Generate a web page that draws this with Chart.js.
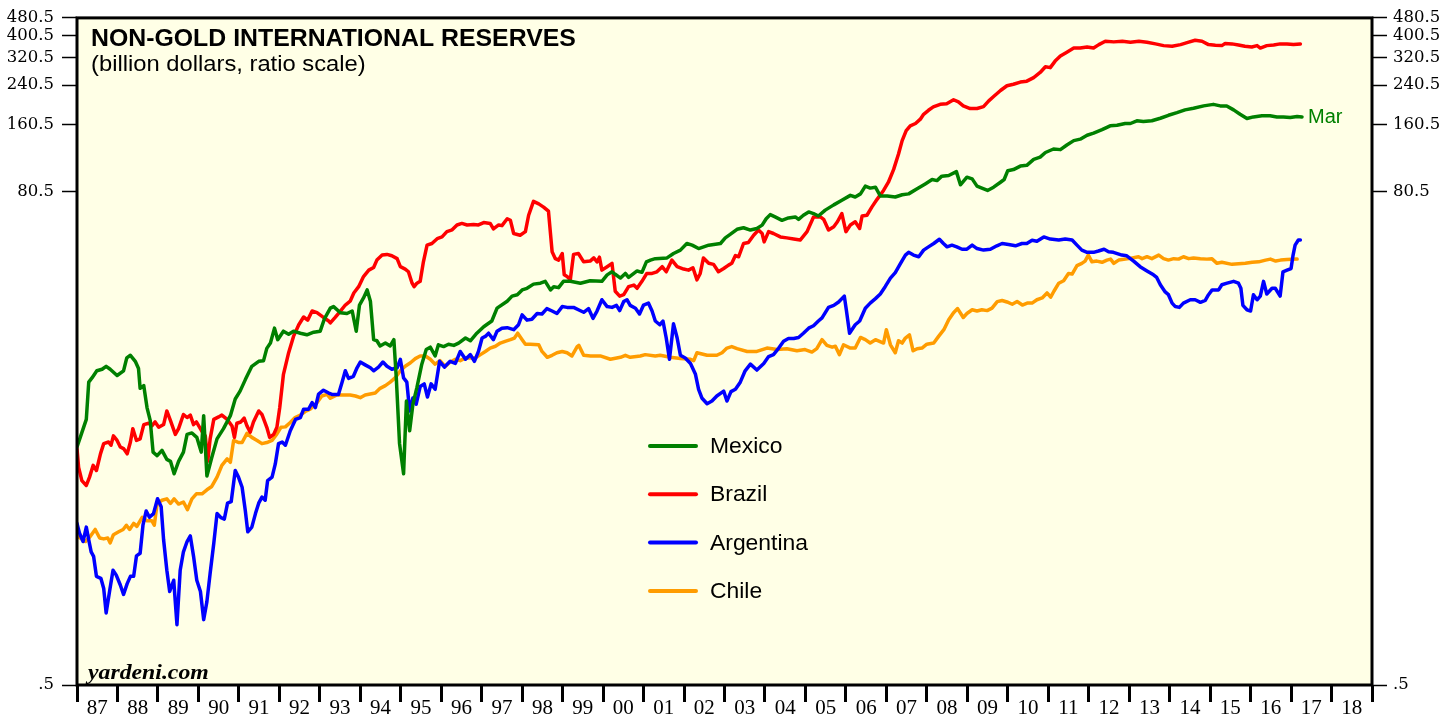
<!DOCTYPE html>
<html><head><meta charset="utf-8">
<script src="https://cdn.jsdelivr.net/npm/chart.js@4.4.1/dist/chart.umd.min.js"></script>
<style>html,body{margin:0;padding:0;background:#fff;}canvas{display:block;}</style>
</head><body>
<canvas id="c" width="1455" height="717" style="width:1455px;height:717px"></canvas>
<script>
// ---------- DATA (billion dollars; [decimal year, value]) ----------
const seriesNames = ['Mexico', 'Brazil', 'Argentina', 'Chile'];
const yTickValues = [0.5, 80.5, 160.5, 240.5, 320.5, 400.5, 480.5];
const yTickLabels = ['.5', '80.5', '160.5', '240.5', '320.5', '400.5', '480.5'];
const xTickLabels = ['87','88','89','90','91','92','93','94','95','96','97','98','99','00','01','02','03','04','05','06','07','08','09','10','11','12','13','14','15','16','17','18'];
const lastLabel = 'Mar';

const mexico = [[1987.00,5.8],[1987.08,6.4],[1987.23,7.7],[1987.29,11.3],[1987.37,11.8],[1987.49,12.7],[1987.62,12.9],[1987.72,13.3],[1987.82,12.9],[1987.99,12.1],
[1988.15,12.7],[1988.23,14.5],[1988.32,14.9],[1988.44,14.0],[1988.52,13.0],[1988.56,10.6],[1988.65,10.9],[1988.73,8.7],[1988.81,7.6],[1988.88,5.5],[1988.98,5.3],
[1989.10,5.6],[1989.22,5.1],[1989.31,5.0],[1989.40,4.4],[1989.51,5.0],[1989.63,5.5],[1989.72,6.6],[1989.84,6.7],[1989.96,6.4],
[1990.07,5.5],[1990.13,8.0],[1990.21,4.3],[1990.33,5.2],[1990.46,6.3],[1990.62,7.0],[1990.79,8.0],[1990.91,9.5],
[1991.03,10.3],[1991.16,11.6],[1991.32,13.3],[1991.49,14.0],[1991.61,14.1],[1991.69,16.0],[1991.78,16.9],[1991.88,19.7],[1991.96,17.5],
[1992.10,19.1],[1992.23,18.5],[1992.35,19.1],[1992.52,18.7],[1992.68,18.4],[1992.85,18.9],
[1993.01,19.1],[1993.11,21.6],[1993.26,24.2],[1993.34,24.6],[1993.51,23.1],[1993.67,22.9],[1993.80,23.5],[1993.90,19.1],[1993.98,25.0],
[1994.08,26.9],[1994.17,29.2],[1994.25,26.0],[1994.33,17.5],[1994.41,17.3],[1994.49,16.4],[1994.62,16.9],[1994.74,16.4],[1994.83,17.5],[1994.89,11.8],[1994.97,6.0],
[1995.07,4.4],[1995.14,9.3],[1995.22,6.85],[1995.30,9.0],[1995.40,10.7],[1995.52,13.6],[1995.63,15.8],[1995.73,16.2],[1995.85,14.8],[1995.93,16.6],
[1996.06,16.3],[1996.18,16.7],[1996.31,16.5],[1996.43,16.9],[1996.60,17.8],[1996.72,17.3],[1996.88,18.7],
[1997.05,20.0],[1997.25,21.2],[1997.38,24.2],[1997.63,26.0],[1997.75,27.4],[1997.88,27.8],
[1998.00,29.2],[1998.12,29.7],[1998.28,31.0],[1998.45,31.3],[1998.57,31.9],[1998.70,29.2],[1998.78,30.2],[1998.90,29.9],
[1999.02,31.9],[1999.19,31.9],[1999.44,31.3],[1999.68,32.1],[1999.97,31.9],
[2000.10,34.1],[2000.22,35.2],[2000.30,34.3],[2000.43,33.0],[2000.55,34.6],[2000.63,33.2],[2000.76,34.6],[2000.84,35.5],[2000.96,35.0],
[2001.07,39.0],[2001.17,39.7],[2001.29,40.3],[2001.58,40.6],[2001.74,42.5],[2001.91,44.0],
[2002.07,47.1],[2002.20,46.3],[2002.36,44.7],[2002.61,46.3],[2002.90,47.1],
[2003.02,49.9],[2003.14,51.7],[2003.31,54.5],[2003.47,55.4],[2003.64,54.1],[2003.80,55.0],[2003.93,56.9],
[2004.03,60.8],[2004.13,63.4],[2004.25,61.9],[2004.42,59.8],[2004.58,61.3],[2004.75,61.9],[2004.83,60.4],[2004.95,63.0],
[2005.08,65.2],[2005.20,64.1],[2005.32,62.5],[2005.49,66.4],[2005.70,70.1],[2005.90,73.5],
[2006.11,77.3],[2006.23,76.0],[2006.36,78.5],[2006.48,85.0],[2006.60,83.3],[2006.73,84.1],[2006.85,76.8],
[2007.02,76.8],[2007.22,76.0],[2007.39,77.8],[2007.55,78.5],[2007.76,82.7],[2007.96,87.0],
[2008.13,91.0],[2008.25,90.0],[2008.37,94.2],[2008.54,94.9],[2008.73,98.7],[2008.83,86.2],[2008.99,93.2],
[2009.12,91.6],[2009.24,85.0],[2009.36,83.3],[2009.50,81.3],[2009.65,84.1],[2009.82,88.5],[2009.91,91.0],
[2010.00,99.7],[2010.14,100.8],[2010.31,104.5],[2010.47,105.3],[2010.64,112],[2010.80,114.6],[2010.93,120.2],
[2011.13,124.6],[2011.30,123.8],[2011.46,129.8],[2011.63,135.8],[2011.79,137.9],[2011.96,143.6],
[2012.12,146.8],[2012.33,152],[2012.53,158.2],[2012.70,159],[2012.90,162],
[2013.03,162],[2013.19,166.6],[2013.35,165.4],[2013.56,166.6],[2013.77,171],[2013.97,176.3],
[2014.18,181.2],[2014.38,186.4],[2014.59,189.5],[2014.84,194.2],
[2015.08,197.3],[2015.25,194.2],[2015.41,194.2],[2015.58,186.4],[2015.74,178.2],[2015.91,170.5],
[2016.07,173.4],[2016.28,175.3],[2016.48,175.3],[2016.65,173.4],[2016.81,173.4],[2016.98,172.2],
[2017.15,174],[2017.27,173.4]];

const brazil = [[1987.00,5.7],[1987.04,4.7],[1987.12,4.1],[1987.23,3.9],[1987.31,4.25],[1987.40,4.8],[1987.48,4.55],[1987.58,5.4],[1987.66,6.0],[1987.78,6.1],[1987.84,5.9],[1987.90,6.5],[1987.99,6.2],
[1988.07,5.8],[1988.15,5.7],[1988.24,5.4],[1988.32,6.1],[1988.38,7.0],[1988.47,6.2],[1988.56,6.3],[1988.65,7.3],[1988.77,7.4],[1988.85,7.2],[1988.93,7.5],
[1989.02,7.1],[1989.14,7.3],[1989.22,8.4],[1989.31,7.6],[1989.43,6.6],[1989.51,7.0],[1989.63,8.1],[1989.72,7.85],[1989.80,8.05],[1989.88,7.3],[1989.95,7.5],
[1990.03,7.1],[1990.11,6.7],[1990.17,6.5],[1990.23,5.0],[1990.29,6.3],[1990.38,7.7],[1990.50,7.9],[1990.58,8.05],[1990.71,7.7],[1990.83,7.2],[1990.89,6.4],[1990.95,7.4],
[1991.05,7.5],[1991.13,7.8],[1991.20,7.2],[1991.28,6.75],[1991.36,7.5],[1991.49,8.4],[1991.57,8.1],[1991.69,7.1],[1991.76,6.4],[1991.86,6.6],[1991.94,7.1],
[1992.01,8.7],[1992.10,12.2],[1992.23,15.3],[1992.35,18.1],[1992.48,20.4],[1992.60,22.1],[1992.70,21.4],[1992.81,23.5],[1992.93,23.1],
[1993.09,22.0],[1993.22,21.2],[1993.26,20.8],[1993.38,22.0],[1993.51,23.5],[1993.63,25.0],[1993.75,26.0],[1993.84,28.3],[1993.96,30.2],
[1994.08,33.5],[1994.21,35.8],[1994.33,36.8],[1994.41,39.7],[1994.54,41.8],[1994.66,42.1],[1994.78,41.5],[1994.91,40.3],[1994.99,37.1],
[1995.11,36.2],[1995.19,35.2],[1995.28,31.3],[1995.33,30.2],[1995.40,31.3],[1995.48,31.9],[1995.56,39.0],[1995.65,46.3],[1995.77,47.1],[1995.90,49.5],
[1996.02,50.4],[1996.14,53.2],[1996.27,54.2],[1996.39,57.0],[1996.51,57.9],[1996.64,57.0],[1996.80,57.3],[1996.92,57.0],
[1997.05,58.4],[1997.21,57.9],[1997.29,54.7],[1997.42,57.0],[1997.50,56.6],[1997.63,60.8],[1997.71,59.8],[1997.79,52.2],[1997.95,51.3],
[1998.08,53.2],[1998.16,63.0],[1998.28,72.7],[1998.41,70.8],[1998.53,68.5],[1998.65,65.7],[1998.74,43.3],[1998.82,40.3],[1998.90,39.7],[1998.99,42.5],
[1999.04,34.1],[1999.11,33.5],[1999.19,32.4],[1999.27,42.1],[1999.39,42.5],[1999.52,39.0],[1999.68,39.3],[1999.77,40.6],[1999.85,39.0],[1999.91,40.9],[1999.97,35.8],
[2000.10,37.1],[2000.22,38.4],[2000.30,28.8],[2000.41,27.4],[2000.51,27.8],[2000.63,30.2],[2000.76,30.7],[2000.84,29.7],[2000.96,31.9],
[2001.08,34.6],[2001.21,34.6],[2001.33,35.2],[2001.46,37.1],[2001.56,35.2],[2001.70,39.7],[2001.83,37.1],[2001.99,36.2],
[2002.11,35.8],[2002.22,36.7],[2002.32,32.4],[2002.40,34.6],[2002.48,40.6],[2002.61,38.4],[2002.73,38.0],[2002.85,35.2],[2002.98,36.4],
[2003.10,37.7],[2003.18,38.4],[2003.27,41.6],[2003.35,41.1],[2003.47,47.1],[2003.59,47.6],[2003.72,51.3],[2003.84,54.1],[2003.93,52.2],[2003.98,47.9],
[2004.09,53.2],[2004.21,52.2],[2004.38,50.4],[2004.54,49.9],[2004.71,49.3],[2004.87,48.8],
[2005.04,53.2],[2005.20,61.9],[2005.37,61.9],[2005.45,60.4],[2005.57,54.1],[2005.70,56.0],[2005.79,58.9],[2005.90,64.1],
[2006.00,53.2],[2006.11,57.0],[2006.23,58.9],[2006.34,55.0],[2006.40,62.5],[2006.52,63.0],[2006.64,68.5],[2006.77,74.2],[2006.93,81.3],
[2007.05,88.5],[2007.18,101],[2007.30,118.3],[2007.39,135.8],[2007.49,150.5],[2007.59,158.2],[2007.72,162],[2007.84,169.4],[2007.92,178.1],
[2008.04,185.6],[2008.16,192.2],[2008.33,197.3],[2008.49,198.7],[2008.66,206.9],[2008.78,202.3],[2008.90,194.2],
[2009.07,189],[2009.24,189],[2009.40,192.8],[2009.53,204.6],[2009.65,213.8],[2009.82,227.5],[2009.98,239],
[2010.14,242.7],[2010.31,248.2],[2010.47,250.5],[2010.64,259.8],[2010.80,273.9],[2010.93,290.7],
[2011.05,287.9],[2011.17,308],[2011.30,324.8],[2011.46,337.7],[2011.63,352.3],[2011.79,352.3],[2011.96,356.2],
[2012.12,352.3],[2012.25,365],[2012.41,378],[2012.62,375.4],[2012.83,378],
[2013.03,374.2],[2013.24,378],[2013.44,374.2],[2013.65,367.7],[2013.85,361.2],
[2014.06,358.8],[2014.27,365],[2014.47,374.2],[2014.63,381.9],[2014.80,378],[2014.96,365],
[2015.13,362.7],[2015.29,361.2],[2015.37,368.8],[2015.54,367.7],[2015.70,363.8],[2015.86,358.8],
[2016.03,356.2],[2016.16,361.2],[2016.24,352.3],[2016.40,361.2],[2016.57,363.8],[2016.73,367.7],[2016.90,367.7],
[2017.06,365],[2017.23,367.7]];

const argentina = [[1987.00,2.64],[1987.06,2.39],[1987.15,2.19],[1987.23,2.54],[1987.29,2.23],[1987.35,1.97],[1987.41,1.88],[1987.48,1.53],[1987.59,1.5],[1987.66,1.35],[1987.72,1.05],[1987.81,1.33],[1987.89,1.63],[1987.97,1.55],
[1988.07,1.4],[1988.15,1.27],[1988.24,1.42],[1988.32,1.53],[1988.40,1.53],[1988.47,1.89],[1988.56,1.94],[1988.63,2.59],[1988.71,3.0],[1988.79,2.81],[1988.89,2.92],[1988.99,3.4],
[1989.08,3.13],[1989.14,2.23],[1989.22,1.63],[1989.29,1.31],[1989.39,1.47],[1989.47,0.93],[1989.55,1.63],[1989.63,1.97],[1989.72,2.19],[1989.80,2.32],[1989.88,1.88],[1989.96,1.47],
[1990.05,1.31],[1990.13,0.98],[1990.21,1.18],[1990.29,1.58],[1990.38,2.15],[1990.46,2.92],[1990.56,2.8],[1990.64,2.76],[1990.72,3.25],[1990.81,3.3],[1990.91,4.55],[1990.99,4.25],
[1991.08,3.83],[1991.16,3.0],[1991.22,2.42],[1991.32,2.54],[1991.41,2.92],[1991.49,3.25],[1991.57,3.46],[1991.65,3.35],[1991.71,4.1],[1991.82,4.25],[1991.90,4.87],[1991.98,6.0],
[1992.07,6.1],[1992.15,5.9],[1992.27,6.85],[1992.40,7.7],[1992.52,7.85],[1992.60,8.55],[1992.72,8.55],[1992.81,9.15],[1992.89,8.7],[1992.97,10.0],
[1993.09,10.4],[1993.22,10.1],[1993.30,9.96],[1993.46,9.96],[1993.55,11.3],[1993.63,12.7],[1993.71,11.75],[1993.83,12.0],[1993.92,13.1],
[1994.00,13.9],[1994.12,13.5],[1994.25,13.1],[1994.33,12.7],[1994.45,13.2],[1994.56,13.9],[1994.66,13.3],[1994.78,12.9],[1994.91,13.1],[1994.99,14.3],
[1995.07,11.8],[1995.15,11.3],[1995.22,8.4],[1995.30,9.6],[1995.38,9.0],[1995.48,10.8],[1995.58,11.1],[1995.66,9.7],[1995.75,11.1],[1995.85,10.5],[1995.96,14.0],
[1996.08,13.2],[1996.22,14.0],[1996.35,13.7],[1996.47,15.5],[1996.60,14.3],[1996.72,15.0],[1996.82,14.0],[1996.92,15.5],
[1997.01,17.8],[1997.09,18.1],[1997.17,18.7],[1997.29,17.5],[1997.38,19.1],[1997.50,19.7],[1997.63,19.8],[1997.79,19.4],[1997.91,20.4],
[1998.00,22.6],[1998.12,21.4],[1998.24,21.6],[1998.37,22.9],[1998.49,22.8],[1998.61,24.1],[1998.74,23.5],[1998.86,22.9],[1998.99,24.6],
[1999.11,24.4],[1999.27,24.4],[1999.39,23.8],[1999.52,23.2],[1999.64,24.1],[1999.75,21.8],[1999.85,23.5],[1999.97,26.4],
[2000.10,24.6],[2000.22,24.4],[2000.33,24.9],[2000.41,23.6],[2000.51,25.9],[2000.59,26.4],[2000.67,24.9],[2000.80,24.2],[2000.90,22.8],
[2001.00,25.0],[2001.12,25.5],[2001.21,23.5],[2001.29,21.2],[2001.40,20.4],[2001.48,21.2],[2001.56,17.8],[2001.64,14.3],[2001.74,20.6],[2001.83,17.8],[2001.91,14.9],
[2002.03,14.5],[2002.16,13.7],[2002.28,12.3],[2002.36,10.5],[2002.44,9.6],[2002.57,9.05],[2002.69,9.3],[2002.81,9.8],[2002.98,10.3],
[2003.06,9.3],[2003.16,10.25],[2003.27,10.5],[2003.39,11.3],[2003.51,12.7],[2003.64,13.6],[2003.80,12.8],[2003.97,13.7],
[2004.09,14.7],[2004.21,15.0],[2004.34,16.05],[2004.46,17.2],[2004.58,17.7],[2004.71,17.7],[2004.83,17.9],[2004.95,18.7],
[2005.08,19.7],[2005.20,20.2],[2005.32,21.2],[2005.41,21.9],[2005.57,24.4],[2005.70,24.9],[2005.82,25.8],[2005.96,27.4],
[2006.01,23.8],[2006.09,18.7],[2006.23,20.4],[2006.34,21.2],[2006.48,24.2],[2006.60,25.5],[2006.73,26.7],[2006.85,28.0],[2006.97,30.2],
[2007.10,33.0],[2007.22,34.9],[2007.35,38.4],[2007.47,41.8],[2007.55,43.0],[2007.67,41.8],[2007.80,41.1],[2007.92,44.0],
[2008.04,45.5],[2008.17,47.1],[2008.31,49.2],[2008.41,47.1],[2008.50,45.5],[2008.62,46.3],[2008.74,45.5],[2008.87,44.4],[2008.99,44.4],
[2009.12,46.3],[2009.24,44.7],[2009.40,44.0],[2009.57,44.4],[2009.73,46.0],[2009.86,47.1],
[2010.02,46.6],[2010.19,46.0],[2010.35,47.1],[2010.47,47.1],[2010.60,48.7],[2010.72,48.2],[2010.89,50.4],
[2011.05,49.3],[2011.26,48.8],[2011.42,49.3],[2011.59,48.8],[2011.71,46.3],[2011.83,44.0],[2011.96,43.0],
[2012.12,43.0],[2012.24,43.6],[2012.38,44.4],[2012.49,43.3],[2012.61,43.0],[2012.82,41.8],[2012.94,41.5],
[2013.11,39.3],[2013.27,37.1],[2013.44,35.5],[2013.60,34.1],[2013.68,33.2],[2013.77,30.8],[2013.89,28.6],[2013.97,27.8],
[2014.06,25.5],[2014.14,24.6],[2014.24,24.4],[2014.34,25.5],[2014.51,26.4],[2014.63,26.4],[2014.76,25.7],[2014.88,26.2],[2014.96,27.8],
[2015.05,29.2],[2015.21,29.2],[2015.29,30.8],[2015.42,31.3],[2015.58,31.9],[2015.70,31.3],[2015.76,29.7],[2015.81,24.9],[2015.91,23.8],
[2016.00,23.5],[2016.07,27.8],[2016.16,26.4],[2016.24,27.4],[2016.32,31.9],[2016.40,28.0],[2016.53,29.7],[2016.61,29.7],[2016.73,27.4],[2016.80,35.2],[2016.90,35.8],
[2017.00,36.4],[2017.05,41.8],[2017.10,46.3],[2017.18,48.8],[2017.23,48.8]];

const chile = [[1987.00,2.31],[1987.08,2.27],[1987.21,2.19],[1987.33,2.31],[1987.45,2.48],[1987.56,2.27],[1987.66,2.25],[1987.76,2.27],[1987.82,2.16],[1987.90,2.35],
[1988.03,2.42],[1988.14,2.48],[1988.22,2.59],[1988.30,2.48],[1988.40,2.64],[1988.48,2.56],[1988.61,2.81],[1988.73,2.71],[1988.85,2.71],[1988.91,2.59],[1988.98,3.24],
[1989.10,3.35],[1989.22,3.4],[1989.31,3.24],[1989.40,3.4],[1989.51,3.22],[1989.63,3.29],[1989.73,3.04],[1989.84,3.4],[1989.95,3.58],
[1990.09,3.58],[1990.21,3.73],[1990.33,3.86],[1990.46,4.25],[1990.58,4.8],[1990.71,5.13],[1990.79,4.95],[1990.87,6.2],
[1991.00,6.07],[1991.08,6.07],[1991.20,6.67],[1991.32,6.4],[1991.45,6.2],[1991.57,6.0],[1991.69,6.07],[1991.82,6.2],[1991.94,6.63],
[1992.04,7.1],[1992.15,7.13],[1992.27,7.46],[1992.39,7.85],[1992.52,8.06],[1992.64,8.35],[1992.76,8.55],[1992.85,8.85],[1992.93,9.15],
[1993.05,9.8],[1993.18,9.96],[1993.26,9.57],[1993.42,9.9],[1993.75,9.9],[1993.88,9.8],
[1994.00,9.63],[1994.12,9.9],[1994.37,10.1],[1994.49,10.6],[1994.62,10.9],[1994.74,11.3],[1994.86,11.8],[1994.99,12.7],
[1995.11,13.3],[1995.24,13.8],[1995.36,14.4],[1995.48,14.8],[1995.61,14.8],[1995.73,14.3],[1995.85,13.6],[1995.97,14.1],
[1996.10,13.3],[1996.22,13.9],[1996.35,14.3],[1996.47,14.1],[1996.60,14.5],[1996.84,14.5],[1996.97,15.0],
[1997.09,15.5],[1997.21,16.05],[1997.34,16.35],[1997.46,16.9],[1997.58,17.2],[1997.71,17.5],[1997.81,17.8],[1997.89,18.7],
[1998.00,17.5],[1998.08,16.7],[1998.20,16.7],[1998.41,16.6],[1998.49,15.5],[1998.62,14.6],[1998.74,14.9],[1998.86,15.3],[1998.99,15.5],
[1999.11,15.3],[1999.23,14.8],[1999.36,16.3],[1999.40,16.5],[1999.52,14.9],[1999.69,14.8],[1999.93,14.8],
[2000.18,14.3],[2000.43,14.6],[2000.55,14.9],[2000.67,14.6],[2000.92,14.8],
[2001.04,15.0],[2001.29,14.8],[2001.41,14.9],[2001.66,14.6],[2001.91,14.4],
[2002.16,14.3],[2002.24,14.1],[2002.32,15.3],[2002.57,14.9],[2002.81,14.9],[2002.94,15.3],
[2003.06,16.05],[2003.18,16.3],[2003.31,15.95],[2003.56,15.5],[2003.80,15.5],
[2004.05,16.05],[2004.30,15.8],[2004.54,15.95],[2004.79,15.6],[2004.99,15.8],
[2005.16,15.4],[2005.28,15.95],[2005.41,17.5],[2005.53,16.5],[2005.66,16.2],[2005.74,16.35],[2005.84,15.0],[2005.94,16.6],
[2006.11,16.05],[2006.23,16.05],[2006.36,17.9],[2006.48,17.5],[2006.60,16.9],[2006.73,17.5],[2006.93,16.9],
[2007.00,19.4],[2007.10,16.6],[2007.22,15.3],[2007.30,17.3],[2007.39,16.9],[2007.47,17.8],[2007.57,18.4],[2007.66,15.6],[2007.76,15.95],[2007.88,16.05],
[2008.00,16.7],[2008.17,16.9],[2008.29,18.1],[2008.42,19.4],[2008.54,21.5],[2008.66,23.1],[2008.76,24.1],[2008.90,22.0],[2008.99,22.9],
[2009.12,23.8],[2009.24,23.5],[2009.36,23.8],[2009.49,23.6],[2009.61,24.2],[2009.74,25.9],[2009.86,26.2],[2009.98,25.8],
[2010.11,25.2],[2010.23,25.9],[2010.36,25.0],[2010.48,25.5],[2010.60,25.5],[2010.72,26.4],[2010.85,26.9],[2010.97,28.3],
[2011.06,27.1],[2011.14,28.8],[2011.26,31.3],[2011.38,32.1],[2011.50,34.6],[2011.59,34.4],[2011.71,37.5],[2011.83,38.4],[2011.91,39.3],[2011.99,41.8],
[2012.08,39.0],[2012.20,39.3],[2012.33,38.8],[2012.45,39.7],[2012.54,40.1],[2012.62,38.4],[2012.74,39.7],[2012.99,40.3],
[2013.23,41.1],[2013.32,40.3],[2013.44,41.1],[2013.56,40.3],[2013.73,41.8],[2013.85,40.3],[2013.97,39.7],
[2014.10,40.3],[2014.22,40.1],[2014.34,41.1],[2014.47,40.3],[2014.59,40.6],[2014.76,40.3],[2014.92,40.1],
[2015.04,40.3],[2015.17,38.4],[2015.29,38.8],[2015.54,38.0],[2015.87,38.4],
[2016.04,38.8],[2016.20,39.0],[2016.37,39.7],[2016.49,40.1],[2016.62,39.3],[2016.74,39.7],[2016.90,39.9],
[2017.15,40.1]];

const seriesData = [mexico, brazil, argentina, chile];
const seriesColors = ['#008000', '#FF0000', '#0000FF', '#FF9C00'];

// ---------- PLUGINS ----------
const SX = 1.08; // slight horizontal stretch seen in reference lettering
function stretchedText(ctx, text, x, y, font, color, sx) {
  ctx.save();
  ctx.font = font;
  ctx.fillStyle = color;
  ctx.textAlign = 'left';
  ctx.textBaseline = 'alphabetic';
  ctx.translate(x, y);
  ctx.scale(sx, 1);
  ctx.fillText(text, 0, 0);
  ctx.restore();
}

const backgroundPlugin = {
  id: 'bg',
  beforeDraw(chart) {
    const {ctx, chartArea: a} = chart;
    ctx.save();
    ctx.fillStyle = '#FFFFFF';
    ctx.fillRect(0, 0, chart.width, chart.height);
    ctx.fillStyle = '#FFFFE6';
    ctx.fillRect(a.left, a.top, a.right - a.left, a.bottom - a.top);
    ctx.restore();
  }
};

const framePlugin = {
  id: 'frame',
  afterDatasetsDraw(chart) {
    const {ctx, chartArea: a} = chart;
    ctx.save();
    ctx.strokeStyle = '#000';
    ctx.lineWidth = 3;
    ctx.strokeRect(a.left, a.top, a.right - a.left, a.bottom - a.top);
    ctx.restore();
  }
};

const annotationPlugin = {
  id: 'annot',
  afterDraw(chart) {
    const {ctx, chartArea: a} = chart;
    stretchedText(ctx, 'NON-GOLD INTERNATIONAL RESERVES', a.left + 14, a.top + 28, 'bold 23px "Liberation Sans", Arial, sans-serif', '#000', SX);
    stretchedText(ctx, '(billion dollars, ratio scale)', a.left + 14, a.top + 53, '22px "Liberation Sans", Arial, sans-serif', '#000', SX);
    stretchedText(ctx, 'yardeni.com', a.left + 11, a.bottom - 6, 'bold italic 22px "Liberation Serif", "Times New Roman", serif', '#000', SX);
    const lx = 650, ly0 = 446, step = 48.3;
    chart.data.datasets.forEach((ds, i) => {
      const y = ly0 + i * step;
      ctx.save();
      ctx.strokeStyle = ds.borderColor;
      ctx.lineWidth = 4;
      ctx.lineCap = 'round';
      ctx.beginPath();
      ctx.moveTo(lx, y);
      ctx.lineTo(lx + 46, y);
      ctx.stroke();
      ctx.restore();
      ctx.save();
      ctx.font = '22px "Liberation Sans", Arial, sans-serif';
      ctx.fillStyle = '#000';
      ctx.textBaseline = 'middle';
      ctx.translate(lx + 60, y + 1);
      ctx.scale(1.04, 1);
      ctx.fillText(ds.label, 0, 0);
      ctx.restore();
    });
    const meta = chart.getDatasetMeta(0);
    const lastPt = meta.data[meta.data.length - 1];
    ctx.save();
    ctx.font = '20px "Liberation Sans", Arial, sans-serif';
    ctx.fillStyle = seriesColors[0];
    ctx.textBaseline = 'middle';
    ctx.fillText(lastLabel, lastPt.x + 6, lastPt.y + 1);
    ctx.restore();
  }
};

// ---------- CHART ----------
const yAxis = (pos) => ({
  type: 'logarithmic',
  position: pos,
  min: 0.5,
  max: 480.5,
  afterBuildTicks: s => { s.ticks = yTickValues.map(v => ({value: v})); },
  afterFit: s => { s.width = pos === 'left' ? 77 : 83; },
  grid: { drawOnChartArea: false, drawTicks: true, tickLength: 15, tickWidth: 1.5, tickColor: '#000' },
  border: { display: false },
  ticks: {
    autoSkip: false,
    color: '#000',
    padding: pos === 'left' ? 8 : 6,
    font: { family: '"DejaVu Serif", serif', size: 16.5 },
    callback: (v, i) => yTickLabels[i]
  }
});

new Chart(document.getElementById('c'), {
  type: 'line',
  data: {
    datasets: seriesNames.map((name, i) => ({
      label: name,
      data: seriesData[i].map(p => ({x: p[0], y: p[1]})),
      borderColor: seriesColors[i],
      backgroundColor: seriesColors[i],
      borderWidth: 3.5,
      borderJoinStyle: 'round',
      borderCapStyle: 'round',
      pointRadius: 0,
      tension: 0,
      fill: false,
      xAxisID: 'x',
      yAxisID: 'y'
    }))
  },
  options: {
    responsive: false,
    animation: false,
    devicePixelRatio: 1,
    layout: { padding: { top: 14, left: 0, right: 0, bottom: 0 } },
    plugins: { legend: { display: false }, tooltip: { enabled: false }, title: { display: false } },
    scales: {
      x: {
        type: 'linear',
        position: 'bottom',
        min: 1987,
        max: 2019,
        afterBuildTicks: s => {
          const t = [];
          for (let yr = 1987; yr <= 2019; yr++) {
            t.push({value: yr});
            if (yr < 2019) t.push({value: yr + 0.5});
          }
          s.ticks = t;
        },
        afterFit: s => { s.height = 32; },
        grid: {
          drawOnChartArea: false,
          drawTicks: true,
          tickLength: 17,
          tickWidth: c => (c.tick && c.tick.value % 1 === 0) ? 3 : 0,
          tickColor: c => (c.tick && c.tick.value % 1 === 0) ? '#000' : 'rgba(0,0,0,0)'
        },
        border: { display: false },
        ticks: {
          autoSkip: false,
          maxRotation: 0,
          minRotation: 0,
          padding: -6,
          color: '#000',
          font: { family: '"Liberation Serif", "Times New Roman", serif', size: 21 },
          callback: v => (v % 1 === 0.5) ? xTickLabels[Math.floor(v) - 1987] : ''
        }
      },
      y: yAxis('left'),
      y2: yAxis('right')
    }
  },
  plugins: [backgroundPlugin, framePlugin, annotationPlugin]
});
</script>
</body></html>
